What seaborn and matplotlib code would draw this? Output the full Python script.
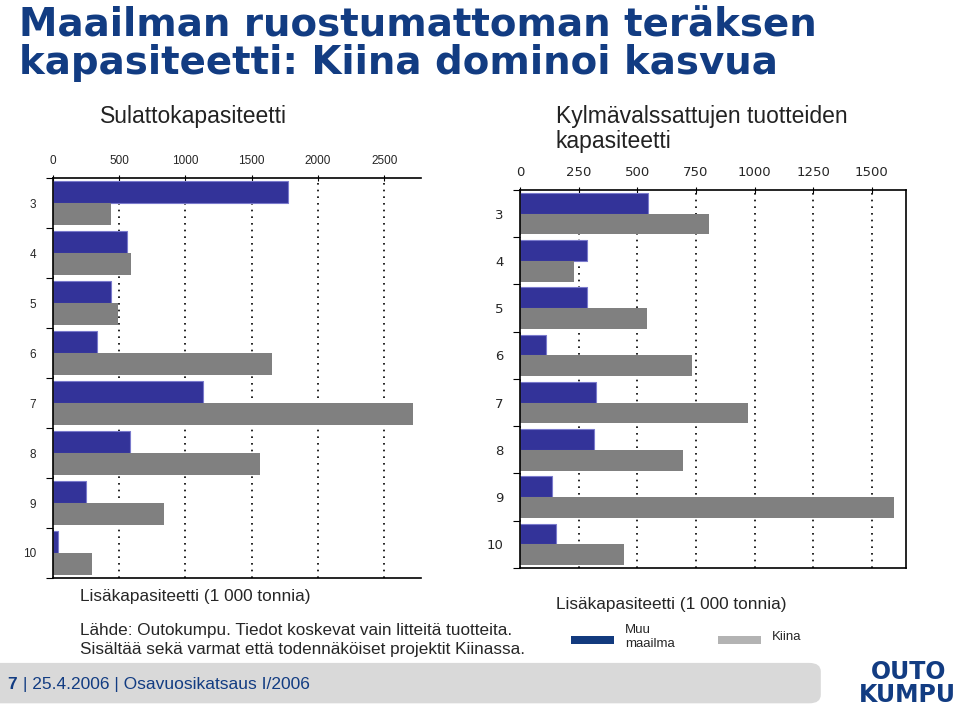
import matplotlib
matplotlib.use("Agg")
import matplotlib.pyplot as plt
import matplotlib.patches as mpatches
from matplotlib.patches import FancyBboxPatch
import seaborn as sns
import pandas as pd
import numpy as np

categories = ["3", "4", "5", "6", "7", "8", "9", "10"]
series_names = ["Muu maailma", "Kiina"]
melt_other = [1770, 560, 440, 335, 1135, 580, 250, 40]
melt_china = [440, 590, 490, 1650, 2715, 1565, 840, 295]
cold_other = [545, 285, 285, 110, 325, 315, 135, 155]
cold_china = [805, 230, 540, 735, 970, 695, 1595, 445]
melt_ticks = [0, 500, 1000, 1500, 2000, 2500]
cold_ticks = [0, 250, 500, 750, 1000, 1250, 1500]

sns.set_theme(style="white")
plt.rcParams['font.family'] = ['Liberation Sans', 'DejaVu Sans']

NAVY = "#123c82"
BAR_BLUE = "#333399"
BAR_GRAY = "#808080"

def make_df(other, china):
    return pd.DataFrame({
        "cat": categories * 2,
        "series": [series_names[0]] * len(categories) + [series_names[1]] * len(categories),
        "value": list(other) + list(china),
    })

fig = plt.figure(figsize=(9.6, 7.09), dpi=100)

def draw(ax, df, ticks, xmax, tickfont, tickfs, frame_right):
    sns.barplot(data=df, y="cat", x="value", hue="series", order=categories,
                hue_order=series_names, palette=[BAR_BLUE, BAR_GRAY],
                orient="h", width=0.88, dodge=True, ax=ax, legend=False,
                saturation=1)
    for p in ax.patches:
        if p.get_facecolor()[:3] == matplotlib.colors.to_rgb(BAR_BLUE):
            p.set_edgecolor("#7a7acc")
            p.set_linewidth(0.8)
        else:
            p.set_edgecolor("none")
    ax.set_xlim(0, xmax)
    ax.set_ylim(len(categories) - 0.5, -0.5)
    ax.set_xticks(ticks)
    ax.set_xticklabels([str(t) for t in ticks], fontsize=tickfs, family=tickfont)
    ax.xaxis.tick_top()
    ax.set_yticks(range(len(categories)))
    ax.set_yticklabels(categories, fontsize=tickfs, family=tickfont)
    ax.set_yticks(np.arange(-0.5, len(categories), 1), minor=True)
    ax.tick_params(axis="y", which="major", length=0, pad=12)
    ax.tick_params(axis="y", which="minor", length=5, width=0.8, color="black", direction="out", left=True)
    ax.tick_params(axis="x", which="major", length=4, width=0.8, color="black", direction="inout", top=True, pad=6)
    ax.grid(axis="x", linestyle=(0, (1, 3)), color="black", linewidth=1.2)
    ax.set_axisbelow(True)
    ax.set_xlabel("")
    ax.set_ylabel("")
    for side in ["left", "top", "bottom"]:
        ax.spines[side].set_visible(True)
        ax.spines[side].set_color("black")
        ax.spines[side].set_linewidth(1.2)
    ax.spines["right"].set_visible(frame_right)
    ax.spines["right"].set_color("black")
    ax.spines["right"].set_linewidth(1.2)

ax1 = fig.add_axes([0.0552, 0.1848, 0.383, 0.564])
draw(ax1, make_df(melt_other, melt_china), melt_ticks, 2775, "Liberation Sans", 8.5, False)

ax2 = fig.add_axes([0.5417, 0.199, 0.402, 0.533])
draw(ax2, make_df(cold_other, cold_china), cold_ticks, 1645, "DejaVu Sans", 9.5, True)

# Title
fig.text(0.020, 0.991, "Maailman ruostumattoman teräksen\nkapasiteetti: Kiina dominoi kasvua",
         ha="left", va="top", fontsize=27.9, fontweight="bold", color=NAVY,
         linespacing=1.0, family="DejaVu Sans")

# Subtitles
fig.text(0.104, 0.835, "Sulattokapasiteetti", ha="left", va="center", fontsize=16.5, color="#222222")
fig.text(0.579, 0.818, "Kylmävalssattujen tuotteiden\nkapasiteetti", ha="left", va="center",
         fontsize=16.5, color="#222222", linespacing=1.15)

# X labels
fig.text(0.083, 0.159, "Lisäkapasiteetti (1 000 tonnia)", ha="left", va="center", fontsize=12.4)
fig.text(0.579, 0.148, "Lisäkapasiteetti (1 000 tonnia)", ha="left", va="center", fontsize=12.4)

# Source note
fig.text(0.083, 0.097, "Lähde: Outokumpu. Tiedot koskevat vain litteitä tuotteita.\nSisältää sekä varmat että todennäköiset projektit Kiinassa.",
         ha="left", va="center", fontsize=12.3, linespacing=1.35)

# Legend
fig.patches.append(mpatches.Rectangle((0.595, 0.091), 0.045, 0.012, transform=fig.transFigure,
                                      facecolor="#123a7e", edgecolor="none"))
fig.text(0.651, 0.101, "Muu\nmaailma", ha="left", va="center", fontsize=9.5, linespacing=1.2)
fig.patches.append(mpatches.Rectangle((0.748, 0.091), 0.045, 0.012, transform=fig.transFigure,
                                      facecolor="#b3b3b3", edgecolor="none"))
fig.text(0.804, 0.101, "Kiina", ha="left", va="center", fontsize=9.5)

# Footer box
fig.patches.append(FancyBboxPatch((-0.02, 0.008), 0.875, 0.057, transform=fig.transFigure,
                                  boxstyle="round,pad=0,rounding_size=0.012",
                                  facecolor="#d9d9d9", edgecolor="none"))
fig.text(0.008, 0.035, "7", ha="left", va="center", fontsize=12.5, fontweight="bold", color=NAVY)
fig.text(0.024, 0.035, "| 25.4.2006 | Osavuosikatsaus I/2006", ha="left", va="center",
         fontsize=12.5, color=NAVY)

# Logo
fig.text(0.946, 0.052, "OUTO", ha="center", va="center", fontsize=17, fontweight="bold",
         color=NAVY, family="Liberation Sans Narrow")
fig.text(0.945, 0.020, "KUMPU", ha="center", va="center", fontsize=17, fontweight="bold",
         color=NAVY, family="Liberation Sans Narrow")

fig.savefig("out.png", dpi=100)
